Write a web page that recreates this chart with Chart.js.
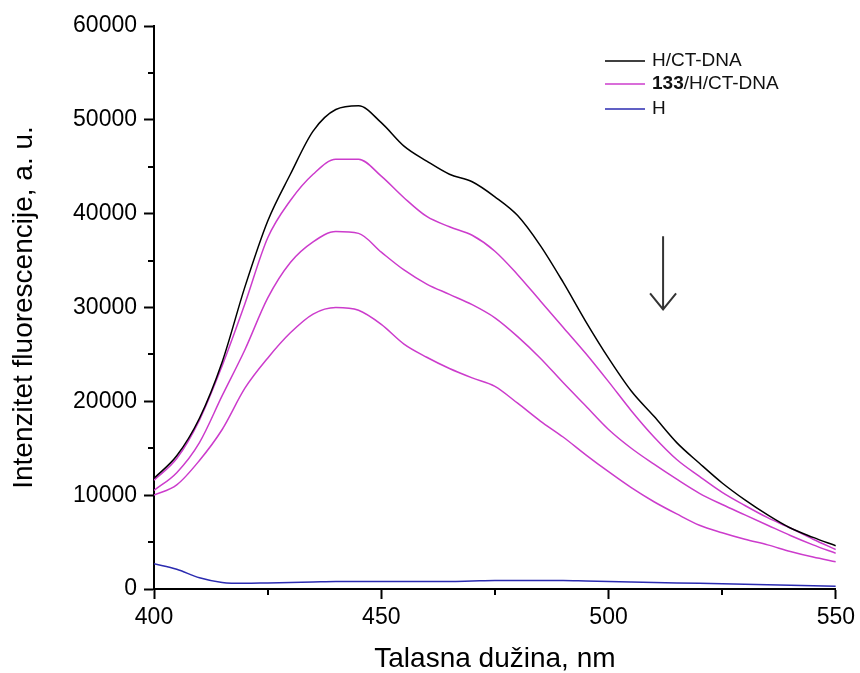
<!DOCTYPE html>
<html>
<head>
<meta charset="utf-8">
<script src="https://cdn.jsdelivr.net/npm/chart.js@4.4.1/dist/chart.umd.min.js"></script>
<style>
  html, body { margin: 0; padding: 0; background: #fff; }
  #wrap { width: 860px; height: 673px; position: relative; }
</style>
</head>
<body>
<div id="wrap"><canvas id="fluo"></canvas></div>
<script>
// wavelength, nm
var wavelength = [400,405,410,415,420,425,430,435,440,445,450,455,460,465,470,475,480,485,490,495,500,505,510,515,520,525,530,535,540,545,550];

// intensities, a.u.
var hCtDna  = [11800,14200,18200,24200,32200,39200,44200,48800,51100,51500,49700,47200,45600,44200,43400,41800,39800,36600,32700,28500,24600,21100,18400,15600,13400,11300,9500,7900,6500,5500,4600];
var c133_1  = [11600,13900,18000,23800,30400,37400,41400,44200,45800,45800,44000,41700,39700,38600,37700,36000,33500,30700,27900,25100,22100,19000,16200,13800,12000,10300,8900,7600,6500,5300,4200];
var c133_2  = [10500,12400,15600,20600,25500,31000,34800,37000,38100,37900,35900,34000,32500,31400,30300,28900,26900,24600,22000,19500,17000,15000,13300,11700,10200,9000,7900,6800,5700,4700,3800];
var c133_3  = [10000,11100,13700,17000,21400,24600,27300,29300,30000,29700,28200,26100,24700,23500,22500,21600,19800,17900,16200,14300,12500,10800,9300,8000,6800,6000,5300,4700,4000,3400,2900];
var hOnly   = [2700,2100,1200,700,600,650,700,750,800,800,800,800,800,800,850,900,900,900,900,850,800,750,700,650,600,550,500,450,400,350,300];

var xMinor = [425,475,525];
var yMinor = [5000,15000,25000,35000,45000,55000];

var legendItems = [
  { bold: '', text: 'H/CT-DNA', color: '#000000' },
  { bold: '133', text: '/H/CT-DNA', color: '#cc3ccc' },
  { bold: '', text: 'H', color: '#2b2bb0' }
];

// arrow: wavelength, start, tip
var arrowAt = [512, 37600, 29800];

function pts(ys) {
  return wavelength.map(function (x, i) { return { x: x, y: ys[i] }; });
}

function line(label, ys, color) {
  return {
    label: label,
    data: pts(ys),
    borderColor: color,
    borderWidth: 1.5,
    pointRadius: 0,
    fill: false,
    cubicInterpolationMode: 'monotone'
  };
}

var FONT = '"Liberation Sans", Arial, sans-serif';

var extras = {
  id: 'extras',
  afterDraw: function (chart) {
    var ctx = chart.ctx;
    var xs = chart.scales.x, ys = chart.scales.y;
    var ca = chart.chartArea;
    ctx.save();
    // minor ticks
    ctx.strokeStyle = '#000';
    ctx.lineWidth = 2;
    ctx.beginPath();
    xMinor.forEach(function (v) {
      var px = Math.round(xs.getPixelForValue(v));
      ctx.moveTo(px, ca.bottom); ctx.lineTo(px, ca.bottom + 6);
    });
    yMinor.forEach(function (v) {
      var py = Math.round(ys.getPixelForValue(v));
      ctx.moveTo(ca.left, py); ctx.lineTo(ca.left - 6, py);
    });
    ctx.stroke();

    // arrow
    var ax = xs.getPixelForValue(arrowAt[0]);
    var a0 = ys.getPixelForValue(arrowAt[1]);
    var a1 = ys.getPixelForValue(arrowAt[2]);
    ctx.strokeStyle = '#333';
    ctx.lineWidth = 2;
    ctx.beginPath();
    ctx.moveTo(ax, a0); ctx.lineTo(ax, a1);
    ctx.moveTo(ax - 13, a1 - 16); ctx.lineTo(ax, a1); ctx.lineTo(ax + 13, a1 - 16);
    ctx.stroke();

    // legend
    var rows = [61, 84, 109];
    ctx.textBaseline = 'middle';
    legendItems.forEach(function (it, i) {
      var y = rows[i];
      ctx.strokeStyle = it.color;
      ctx.lineWidth = 1.5;
      ctx.beginPath();
      ctx.moveTo(605, y); ctx.lineTo(645, y);
      ctx.stroke();
      var x = 652;
      ctx.fillStyle = '#111';
      if (it.bold) {
        ctx.font = 'bold 19px ' + FONT;
        ctx.fillText(it.bold, x, y);
        x += ctx.measureText(it.bold).width;
      }
      ctx.font = '19px ' + FONT;
      ctx.fillText(it.text, x, y);
    });
    ctx.restore();
  }
};

new Chart(document.getElementById('fluo'), {
  type: 'line',
  data: {
    datasets: [
      line('H/CT-DNA', hCtDna, '#000000'),
      line('133/H/CT-DNA', c133_1, '#cc3ccc'),
      line('133/H/CT-DNA (2)', c133_2, '#cc3ccc'),
      line('133/H/CT-DNA (3)', c133_3, '#cc3ccc'),
      line('H', hOnly, '#2b2bb0')
    ]
  },
  options: {
    responsive: true,
    maintainAspectRatio: false,
    animation: false,
    layout: { padding: { top: 26, right: 19, left: 0, bottom: 0 } },
    plugins: {
      legend: { display: false },
      tooltip: { enabled: false }
    },
    scales: {
      x: {
        type: 'linear',
        min: 400, max: 550,
        border: { display: true, color: '#000', width: 2 },
        grid: { drawOnChartArea: false, drawTicks: true, tickLength: 10, tickColor: '#000', tickWidth: 2 },
        ticks: { stepSize: 50, color: '#000', padding: 5, font: { family: FONT, size: 23 },
                 callback: function (v) { return String(v); } },
        title: { display: true, text: 'Talasna dužina, nm', color: '#000',
                 font: { family: FONT, size: 28, lineHeight: 1 }, padding: { top: 0, bottom: 0 } },
        afterFit: function (s) { s.height = 84; }
      },
      y: {
        min: 0, max: 60000,
        border: { display: true, color: '#000', width: 2 },
        grid: { drawOnChartArea: false, drawTicks: true, tickLength: 10, tickColor: '#000', tickWidth: 2 },
        ticks: { stepSize: 10000, color: '#000', padding: 7, font: { family: FONT, size: 23 },
                 callback: function (v) { return String(v); } },
        title: { display: true, text: 'Intenzitet fluorescencije, a. u.', color: '#000',
                 font: { family: FONT, size: 28, lineHeight: 1 }, padding: { top: 10, bottom: 0 } },
        afterFit: function (s) { s.width = 154; }
      }
    }
  },
  plugins: [extras]
});
</script>
</body>
</html>
